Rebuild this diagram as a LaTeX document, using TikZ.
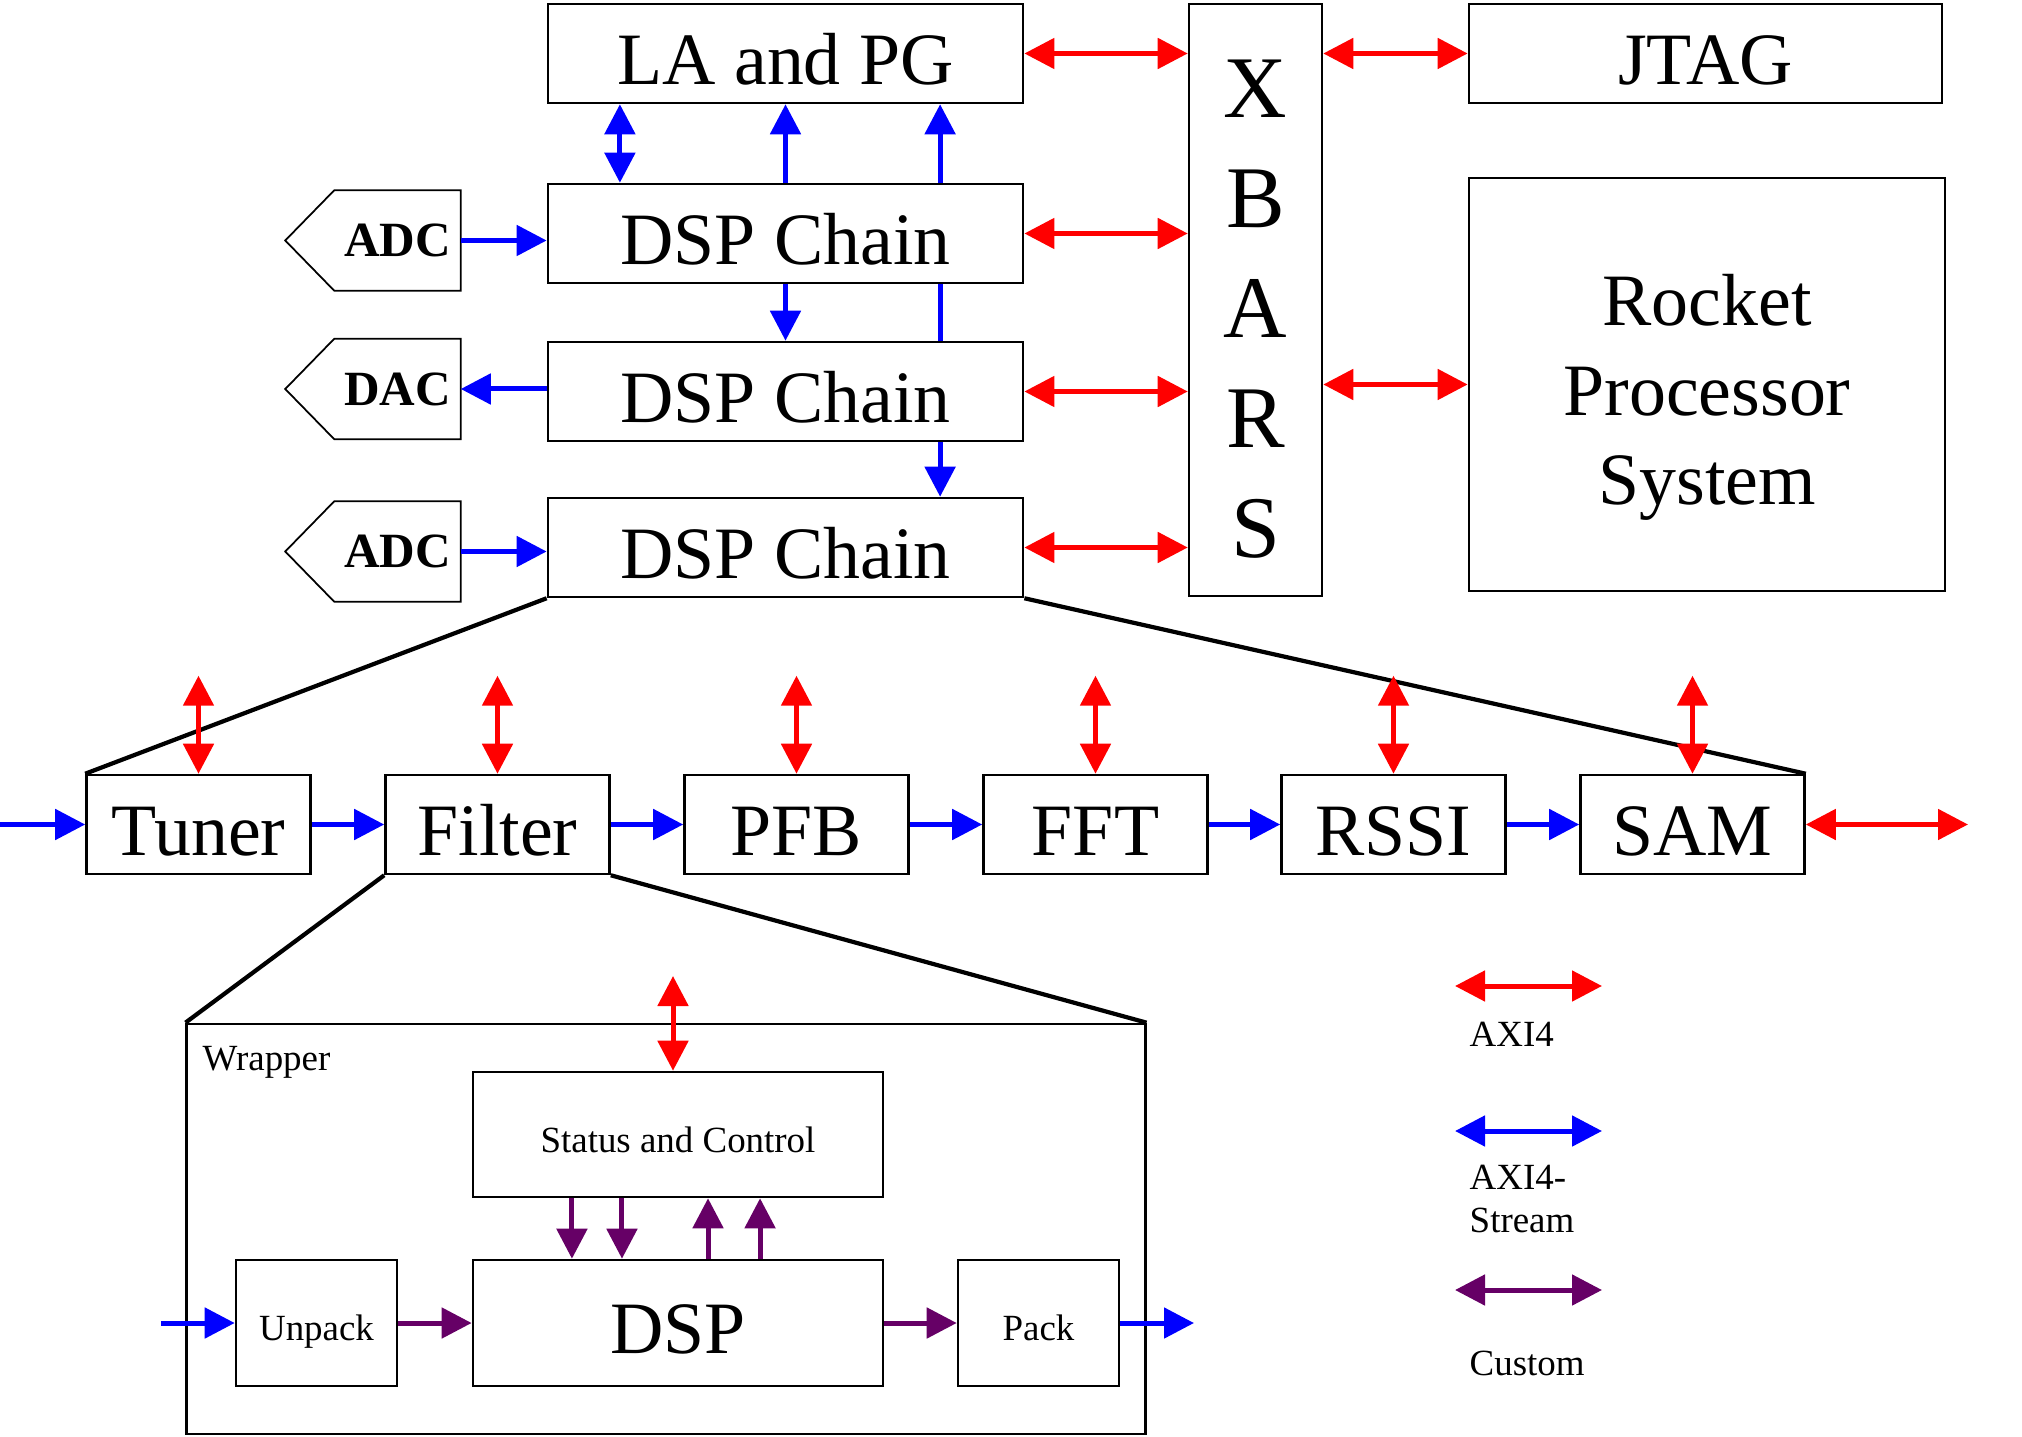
\documentclass[tikz,border=0pt]{standalone}
\usepackage{fontspec}
\setmainfont{Liberation Serif}
\usetikzlibrary{arrows.meta, backgrounds}
\definecolor{axired}{RGB}{255,0,0}
\definecolor{axiblue}{RGB}{0,0,255}
\definecolor{custpurple}{RGB}{102,0,102}

\begin{document}
\begin{tikzpicture}[x=0.01cm, y=-0.01cm,
  >={Triangle[length=0.3cm, width=0.3cm]},
  box/.style={draw, fill=white, line width=0.7pt, inner sep=0pt, align=center},
  bigtxt/.style={font=\fontsize{21}{25.5}\selectfont, text height=17.4pt, text depth=0pt},
  smalltxt/.style={font=\fontsize{10.5}{12.5}\selectfont},
  chain/.style={box, bigtxt, minimum width=4.75cm, minimum height=0.99cm},
  stage/.style={box, bigtxt, minimum width=2.24cm, minimum height=0.99cm},
  inner/.style={box, smalltxt, text height=10pt, text depth=0pt, minimum height=1.26cm},
  conv/.style={inner sep=0pt, minimum width=1.25cm, minimum height=0.99cm, font=\bfseries\fontsize{14}{17}\selectfont},
  axi/.style={<->, axired, line width=0.05cm},
  stream/.style={->, axiblue, line width=0.05cm},
  cust/.style={->, custpurple, line width=0.05cm},
  zoomline/.style={line width=1.2pt}
]
\useasboundingbox (0,0) rectangle (2022,1437);

% Top level
\node[chain] (lapg) at (785.5,53.5) {LA and PG};
\node[chain] (dsp1) at (785.5,233.5) {DSP Chain};
\node[chain] (dsp2) at (785.5,391.5) {DSP Chain};
\node[chain] (dsp3) at (785.5,547.5) {DSP Chain};
\node[box, minimum width=1.33cm, minimum height=5.92cm, font=\fontsize{25}{31.3}\selectfont, text height=146.6pt, text depth=0pt] (xbars) at (1255.5,300) {X\\B\\A\\R\\S};
\node[box, bigtxt, minimum width=4.73cm, minimum height=0.99cm] (jtag) at (1705.5,53.5) {JTAG};
\node[box, bigtxt, text height=68.4pt, minimum width=4.76cm, minimum height=4.13cm] (rocket) at (1707,384.5) {Rocket\\Processor\\System};

% Converters
\node[conv] (adc1) at (397.5,240.5) {ADC};
\node[conv] (dac) at (397.5,389) {DAC};
\node[conv] (adc2) at (397.5,551.5) {ADC};
\foreach \c in {adc1,dac,adc2}
  \draw[line width=0.5pt] (\c.north east) -- (\c.north west) -- ([xshift=-0.49cm]\c.west) -- (\c.south west) -- (\c.south east) -- cycle;

% DSP chain stages
\node[stage] (tuner) at (198.5,824.5) {Tuner};
\node[stage] (filter) at (497.5,824.5) {Filter};
\node[stage] (pfb) at (796.5,824.5) {PFB};
\node[stage] (fft) at (1095.5,824.5) {FFT};
\node[stage] (rssi) at (1393.5,824.5) {RSSI};
\node[stage] (sam) at (1692.5,824.5) {SAM};

% Wrapper
\node[box, minimum width=9.58cm, minimum height=4.10cm] (wrapper) at (666,1229) {};
\node[smalltxt, anchor=base west, inner sep=0pt] (wraplbl) at (202,1070) {Wrapper};
\node[inner, minimum width=4.10cm, minimum height=1.25cm] (status) at (678,1134.5) {Status and Control};
\node[box, bigtxt, minimum width=4.10cm, minimum height=1.26cm] (dsp) at (678,1323) {DSP};
\node[inner, minimum width=1.61cm] (unpack) at (316.5,1323) {Unpack};
\node[inner, minimum width=1.61cm] (pack) at (1038.5,1323) {Pack};

% Free ends
\coordinate (rowin) at (0,824.5);
\coordinate (rowout) at (1968,824.5);
\coordinate (wrapin) at (161,1323);
\coordinate (wrapout) at (1194,1323);
\coordinate (statbus) at (673,976);

% Crossbar links
\draw[axi] (lapg.east) -- (lapg.east -| xbars.west);
\draw[axi] (dsp1.east) -- (dsp1.east -| xbars.west);
\draw[axi] (dsp2.east) -- (dsp2.east -| xbars.west);
\draw[axi] (dsp3.east) -- (dsp3.east -| xbars.west);
\draw[axi] (xbars.east |- jtag.west) -- (jtag.west);
\draw[axi] (xbars.east |- rocket.west) -- (rocket.west);

% Streams between chains
\draw[stream, <->] ([xshift=-1.655cm]dsp1.north) -- ([xshift=-1.655cm]lapg.south);
\draw[stream] (dsp1.north) -- (lapg.south);
\draw[stream] (dsp1.south) -- (dsp2.north);
\begin{pgfonlayer}{background}
\draw[stream] ([xshift=1.545cm]dsp2.north) -- ([xshift=1.545cm]lapg.south);
\end{pgfonlayer}
\draw[stream] ([xshift=1.545cm]dsp2.south) -- ([xshift=1.545cm]dsp3.north);
\draw[stream] (adc1.east) -- (adc1.east -| dsp1.west);
\draw[stream] (dac.east -| dsp2.west) -- (dac.east);
\draw[stream] (adc2.east) -- (adc2.east -| dsp3.west);

% Zoom-in lines
\draw[zoomline] (dsp3.south west) -- (tuner.north west);
\draw[zoomline] (dsp3.south east) -- (sam.north east);
\draw[zoomline] (filter.south west) -- (wrapper.north west);
\draw[zoomline] (filter.south east) -- (wrapper.north east);

% Stage row
\draw[stream] (rowin) -- (tuner.west);
\draw[stream] (tuner.east) -- (filter.west);
\draw[stream] (filter.east) -- (pfb.west);
\draw[stream] (pfb.east) -- (fft.west);
\draw[stream] (fft.east) -- (rssi.west);
\draw[stream] (rssi.east) -- (sam.west);
\draw[axi] (sam.east) -- (rowout);
\foreach \s in {tuner,filter,pfb,fft,rssi,sam}{
  \coordinate (\s-bus) at ([yshift=0.98cm]\s.north);
  \draw[axi] (\s-bus) -- (\s.north);
}

% Inside the wrapper
\draw[stream] (wrapin) -- (unpack.west);
\draw[cust] (unpack.east) -- (dsp.west);
\draw[cust] (dsp.east) -- (pack.west);
\draw[stream] (pack.east) -- (wrapout);
\draw[axi] (statbus) -- (statbus |- status.north);
\draw[cust] ([xshift=-1.06cm]status.south) -- ([xshift=-1.06cm]dsp.north);
\draw[cust] ([xshift=-0.56cm]status.south) -- ([xshift=-0.56cm]dsp.north);
\draw[cust] ([xshift=0.30cm]dsp.north) -- ([xshift=0.30cm]status.south);
\draw[cust] ([xshift=0.82cm]dsp.north) -- ([xshift=0.82cm]status.south);

% Legend
\coordinate (key1l) at (1455,986);
\coordinate (key1r) at (1602,986);
\coordinate (key2l) at (1455,1131);
\coordinate (key2r) at (1602,1131);
\coordinate (key3l) at (1455,1290);
\coordinate (key3r) at (1602,1290);
\draw[axi] (key1l) -- (key1r);
\draw[stream, <->] (key2l) -- (key2r);
\draw[cust, <->] (key3l) -- (key3r);
\node[smalltxt, anchor=base west, inner sep=0pt] (legaxi) at (1469,1046) {AXI4};
\node[smalltxt, anchor=west, align=left, inner sep=0pt] (legstream) at (1469,1199) {AXI4-\\Stream};
\node[smalltxt, anchor=base west, inner sep=0pt] (legcust) at (1469,1375) {Custom};

\end{tikzpicture}
\end{document}
